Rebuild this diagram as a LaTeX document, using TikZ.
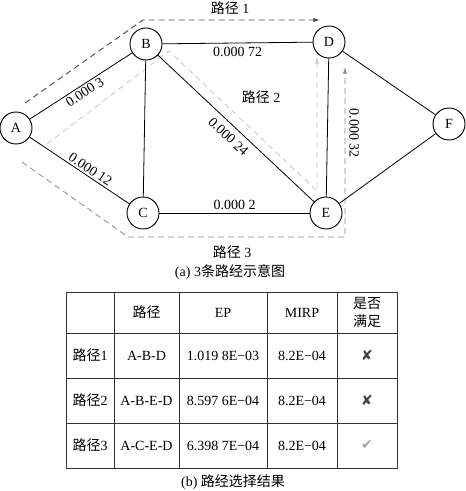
\documentclass[tikz,border=0pt]{standalone}
\usepackage{fontspec}
\setmainfont{Liberation Serif}
\newfontfamily\cjk{Noto Sans CJK SC}
\newfontfamily\symf{DejaVu Sans}
\usetikzlibrary{arrows.meta}
\begin{document}
\begin{tikzpicture}[x=0.75pt,y=-0.75pt,
  font=\fontsize{10.5}{12}\selectfont,
  vtx/.style={circle,draw,line width=0.7pt,minimum size=24pt,inner sep=0pt,fill=white},
  edge/.style={line width=0.6pt},
  wlab/.style={inner sep=1.5pt,sloped},
  pathA/.style={dashed,line width=0.7pt,draw=black!70,dash pattern=on 4.5pt off 3pt,-{Latex[length=5pt,width=3.2pt]}},
  pathB/.style={dashed,line width=0.6pt,draw=black!22,dash pattern=on 4.5pt off 3pt,-{Latex[length=5pt,width=3.2pt]}},
  pathC/.style={dashed,line width=0.6pt,draw=black!45,dash pattern=on 4.5pt off 3pt,-{Latex[length=5pt,width=3.2pt]}},
  cell/.style={inner sep=0pt,align=center},
  grid/.style={line width=0.6pt,draw=black!80}]
\useasboundingbox (0,0) rectangle (466,491);

% dashed paths
\coordinate (p1a) at (25,103);
\coordinate (p1b) at (143,20);
\coordinate (p1c) at (320,20);
\draw[pathA] (p1a) -- (p1b) -- (p1c);
\coordinate (p2a) at (47,144);
\coordinate (p2b) at (169,51);
\coordinate (p2c) at (317,191);
\coordinate (p2d) at (317,57);
\draw[pathB] (p2a) -- (p2b) -- (p2c) -- (p2d);
\coordinate (p3a) at (22,162);
\coordinate (p3b) at (128,237);
\coordinate (p3c) at (345,237);
\coordinate (p3d) at (345,67);
\draw[pathC] (p3a) -- (p3b) -- (p3c) -- (p3d);

% vertices
\node[vtx] (A) at (16,128) {A};
\node[vtx] (B) at (146,44) {B};
\node[vtx] (C) at (143,213) {C};
\node[vtx] (D) at (329,42) {D};
\node[vtx] (E) at (326,213) {E};
\node[vtx] (F) at (449,124) {F};

% edges
\draw[edge] (A) -- (B) node[wlab,midway,below] {0.000 3};
\draw[edge] (A) -- (C) node[wlab,pos=0.57,above] {0.000 12};
\draw[edge] (B) -- (C);
\draw[edge] (B) -- (D) node[inner sep=3pt,midway,below] {0.000 72};
\draw[edge] (B) -- (E) node[wlab,pos=0.5,below,inner sep=4.5pt] {0.000 24};
\draw[edge] (C) -- (E) node[inner sep=2pt,midway,above] {0.000 2};
\draw[edge] (D) -- (E) node[pos=0.54,xshift=20pt,rotate=-90] {0.000 32};
\draw[edge] (D) -- (F);
\draw[edge] (E) -- (F);

% path labels
\node (l1) at (230,8) {{\cjk 路径} 1};
\node (l2) at (261,97) {{\cjk 路径} 2};
\node (l3) at (232,252) {{\cjk 路径} 3};
\node (capa) at (230,272) {(a) 3{\cjk 条路经示意图}};

% table
\draw[grid] (66,292) rectangle (397,468);
\draw[grid] (66,333) -- (397,333);
\draw[grid] (66,378) -- (397,378);
\draw[grid] (66,423) -- (397,423);
\draw[grid] (114,292) -- (114,468);
\draw[grid] (179,292) -- (179,468);
\draw[grid] (267,292) -- (267,468);
\draw[grid] (337,292) -- (337,468);

\node[cell] (h2) at (146.5,312.5) {\cjk 路径};
\node[cell] (h3) at (223,312.5) {EP};
\node[cell] (h4) at (302,312.5) {MIRP};
\node[cell,font=\cjk\fontsize{10.5}{14}\selectfont] (h5) at (367,312.5) {是否\\满足};

\node[cell] (r1a) at (90,355.5) {{\cjk 路径}1};
\node[cell] (r1b) at (146.5,355.5) {A-B-D};
\node[cell] (r1c) at (223,355.5) {1.019 8E−03};
\node[cell] (r1d) at (302,355.5) {8.2E−04};
\node[cell,text=black!75] (r1e) at (367,355.5) {\symf ✘};

\node[cell] (r2a) at (90,400.5) {{\cjk 路径}2};
\node[cell] (r2b) at (146.5,400.5) {A-B-E-D};
\node[cell] (r2c) at (223,400.5) {8.597 6E−04};
\node[cell] (r2d) at (302,400.5) {8.2E−04};
\node[cell,text=black!75] (r2e) at (367,400.5) {\symf ✘};

\node[cell] (r3a) at (90,445.5) {{\cjk 路径}3};
\node[cell] (r3b) at (146.5,445.5) {A-C-E-D};
\node[cell] (r3c) at (223,445.5) {6.398 7E−04};
\node[cell] (r3d) at (302,445.5) {8.2E−04};
\node[cell,text=black!35] (r3e) at (367,445.5) {\symf ✔};

\node (capb) at (233,482) {(b) {\cjk 路经选择结果}};
\end{tikzpicture}
\end{document}
